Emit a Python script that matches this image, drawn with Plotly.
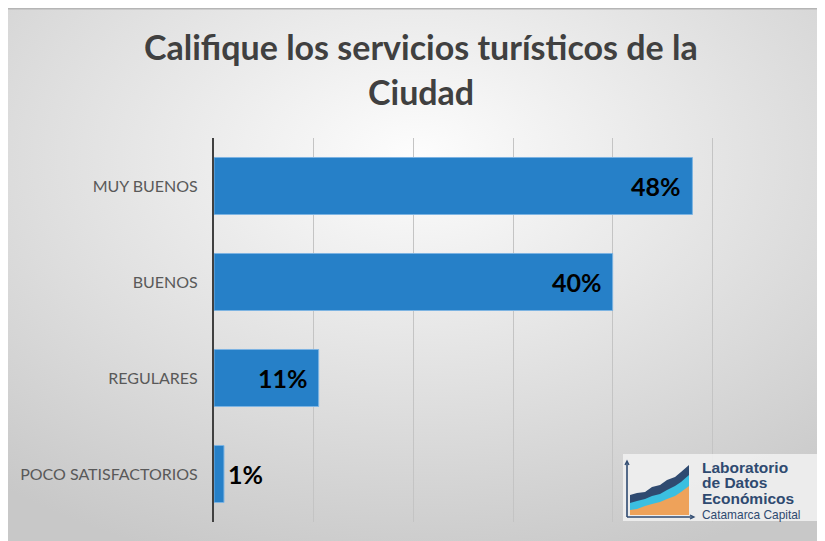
import base64
import plotly.graph_objects as go

categories = ["MUY BUENOS", "BUENOS", "REGULARES", "POCO SATISFACTORIOS"]
values = [48, 40, 10.5, 1]
value_labels = ["48%", "40%", "11%", "1%"]
label_positions = ["inside", "inside", "inside", "outside"]
title_lines = ["Califique los servicios turísticos de la", "Ciudad"]
logo_lines = ["Laboratorio", "de Datos", "Económicos"]
logo_sub = "Catamarca Capital"

OFF = 8  # page body margin
W, H = 825 - OFF, 541 - OFF
L, R, T, B = 214 - OFF, 13, 138 - OFF, 19
PW, PH = W - L - R, H - T - B


def px(x):
    return (x - OFF - L) / PW


def py(y):
    return (H - B - (y - OFF)) / PH


def svg_uri(svg):
    return "data:image/svg+xml;base64," + base64.b64encode(svg.encode("utf-8")).decode("ascii")


bg_svg = (
    f'<svg xmlns="http://www.w3.org/2000/svg" width="{W}" height="{H}" viewBox="0 0 {W} {H}" preserveAspectRatio="none">'
    '<defs><radialGradient id="g" cx="50%" cy="28%" r="80%">'
    '<stop offset="0%" stop-color="#fdfdfd"/><stop offset="100%" stop-color="#c8c8c8"/>'
    f'</radialGradient></defs><rect width="{W}" height="{H}" fill="url(#g)"/></svg>'
)

# logo box (195 x 67) with chart icon
logo_svg = (
    '<svg xmlns="http://www.w3.org/2000/svg" width="195" height="67" viewBox="0 0 195 67">'
    '<rect width="195" height="67" fill="#efefef" fill-opacity="0.9"/>'
    '<g transform="translate(2,6)">'
    '<path d="M5,55 L5,35 L12,33 L20,32 L27,27 L35,25 L42,20 L50,17 L56,12 L64,5 L64,55 Z" fill="#2f4a70"/>'
    '<path d="M5,55 L5,43 L12,41 L20,39 L27,36 L35,34 L42,30 L50,26 L56,22 L64,15 L64,55 Z" fill="#3bbfe0"/>'
    '<path d="M5,55 L5,50 L12,49 L20,46 L27,44 L35,42 L42,39 L50,36 L56,32 L64,26 L64,55 Z" fill="#eea25a"/>'
    '<path d="M2,57 L2,2 M2,57 L68,57" stroke="#2f4a70" stroke-width="1.6" fill="none"/>'
    '<path d="M0,5 L2,1 L4,5 M65,55 L69,57 L65,59" stroke="#2f4a70" stroke-width="1.3" fill="none"/>'
    '</g></svg>'
)

fig = go.Figure()
fig.add_trace(go.Bar(
    y=categories,
    x=values,
    orientation="h",
    marker=dict(color="#2680c8", line=dict(color="#7db4e2", width=1)),
    hoverinfo="skip",
))

annotations = []
for cat, v, lab, pos in zip(categories, values, value_labels, label_positions):
    annotations.append(dict(
        x=v, y=cat, xref="x", yref="y", text=f"<b>{lab}</b>", showarrow=False,
        xanchor="right" if pos == "inside" else "left",
        xshift=-9 if pos == "inside" else 2,
        font=dict(family="Lato", size=25, color="#000000"),
    ))

for i, line in enumerate(title_lines):
    annotations.append(dict(
        x=px(421), y=py(47 + 45 * i), xref="paper", yref="paper", text=f"<b>{line}</b>",
        showarrow=False, xanchor="center", yanchor="middle",
        font=dict(family="Lato", size=34, color="#404040"),
    ))

# logo text as one block: line spacing = 1.3 x base font size
logo_text = "<br>".join(
    [f"<span style='font-size:15.5px'><b>{ln}</b></span>" for ln in logo_lines] + [logo_sub]
)
annotations.append(dict(
    x=px(700), y=py(490), xref="paper", yref="paper", text=logo_text,
    showarrow=False, xanchor="left", yanchor="middle", align="left",
    font=dict(family="Liberation Sans", size=11.9, color="#2f4a70"),
))

fig.update_layout(
    width=W, height=H,
    margin=dict(l=L, r=R, t=T, b=B),
    paper_bgcolor="#ffffff",
    plot_bgcolor="rgba(0,0,0,0)",
    showlegend=False,
    bargap=0.406,
    annotations=annotations,
    xaxis=dict(
        range=[0, 60], dtick=10, showticklabels=False, showgrid=True,
        gridcolor="#c4c4c4", gridwidth=1, zeroline=False, showline=False, fixedrange=True,
    ),
    yaxis=dict(
        autorange="reversed", showline=True, linecolor="#404040", linewidth=2,
        showgrid=False, ticks="", ticklabelstandoff=11,
        tickfont=dict(family="Lato", size=16, color="#595959"), fixedrange=True,
    ),
    images=[
        dict(source=svg_uri(bg_svg), xref="paper", yref="paper",
             x=px(OFF), y=py(OFF), sizex=W / PW, sizey=H / PH,
             xanchor="left", yanchor="top", sizing="stretch", layer="below"),
        dict(source=svg_uri(logo_svg), xref="paper", yref="paper",
             x=px(623), y=py(454), sizex=195 / PW, sizey=67 / PH,
             xanchor="left", yanchor="top", sizing="stretch", layer="above"),
    ],
    shapes=[
        dict(type="line", xref="paper", yref="paper", x0=px(OFF), x1=px(825), y0=py(OFF + 0.5), y1=py(OFF + 0.5),
             line=dict(color="#b5b5b5", width=2), layer="above"),
    ],
)

fig.write_html("out.html")
